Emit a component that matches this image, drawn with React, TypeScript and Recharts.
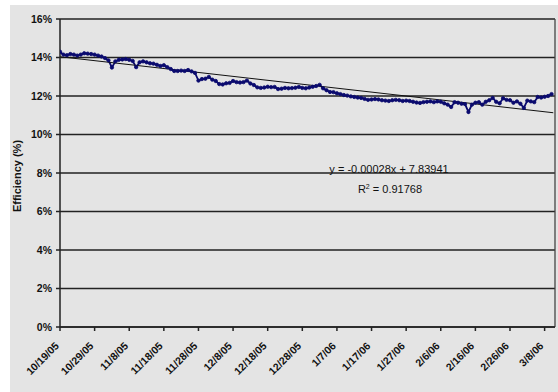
import React from 'react';
import { ComposedChart, Line, XAxis, YAxis, CartesianGrid, ReferenceLine } from 'recharts';

// day index since 10/19/05
const efficiencyValues: number[] = [
  14.30, 14.15, 14.12, 14.18, 14.15, 14.10, 14.15, 14.22, 14.20, 14.18,
  14.15, 14.10, 14.05, 13.97, 13.85, 13.48, 13.80, 13.88, 13.90, 13.92,
  13.88, 13.82, 13.50, 13.75, 13.80, 13.75, 13.70, 13.68, 13.62, 13.56,
  13.60, 13.50, 13.40, 13.30, 13.30, 13.32, 13.30, 13.35, 13.28, 13.20,
  12.80, 12.88, 12.90, 12.99, 12.85, 12.78, 12.62, 12.60, 12.66, 12.68,
  12.78, 12.72, 12.70, 12.72, 12.80, 12.65, 12.57, 12.45, 12.42, 12.44,
  12.48, 12.46, 12.47, 12.36, 12.38, 12.42, 12.40, 12.41, 12.43, 12.47,
  12.42, 12.40, 12.44, 12.48, 12.52, 12.58, 12.40, 12.30, 12.21, 12.20,
  12.14, 12.10, 12.05, 12.02, 11.98, 11.95, 11.92, 11.90, 11.85, 11.80,
  11.82, 11.84, 11.82, 11.78, 11.76, 11.74, 11.78, 11.80, 11.78, 11.74,
  11.76, 11.74, 11.70, 11.66, 11.64, 11.68, 11.70, 11.72, 11.68, 11.72,
  11.70, 11.62, 11.55, 11.43, 11.68, 11.65, 11.60, 11.58, 11.17, 11.55,
  11.65, 11.68, 11.55, 11.70, 11.78, 11.90, 11.70, 11.62, 11.88, 11.80,
  11.78, 11.65, 11.72, 11.60, 11.38, 11.76, 11.72, 11.68, 11.95, 11.92,
  11.96, 12.00, 12.10,
];

const trendDays: number[] = [0, 142.5];
const trendValues: number[] = [14.04, 11.13];

const xTickDays: number[] = [0, 10, 20, 30, 40, 50, 60, 70, 80, 90, 100, 110, 120, 130, 140];
const xTickLabels: string[] = [
  '10/19/05', '10/29/05', '11/8/05', '11/18/05', '11/28/05', '12/8/05', '12/18/05',
  '12/28/05', '1/7/06', '1/17/06', '1/27/06', '2/6/06', '2/16/06', '2/26/06', '3/8/06',
];
const yTicks: number[] = [0, 2, 4, 6, 8, 10, 12, 14, 16];

const equationText = 'y = -0.00028x + 7.83941';
const rSquaredText = '0.91768';

const seriesData = efficiencyValues.map((v, i) => ({ day: i, eff: v }));
const trendData = trendDays.map((d, i) => ({ day: d, trend: trendValues[i] }));

const FONT = '"Liberation Sans", Arial, sans-serif';

const XTick = (props: any) => {
  const { x, y, payload } = props;
  const idx = xTickDays.indexOf(payload.value);
  const label = idx >= 0 ? xTickLabels[idx] : '';
  return (
    <g transform={`translate(${x - 3},${y + 11}) rotate(-45)`}>
      <text x={0} y={0} dy="0.35em" textAnchor="end" fontSize={10.5} fontWeight="bold" fill="#111" fontFamily={FONT}>
        {label}
      </text>
    </g>
  );
};

export default function App() {
  return (
    <div style={{ position: 'absolute', left: 0, top: 0, width: 558, height: 392, background: '#fff' }}>
      <div style={{ position: 'absolute', left: 10, top: 5, width: 548, height: 387, background: '#e4e4e4' }} />
      <div style={{ position: 'absolute', left: 0, top: 0 }}>
        <ComposedChart width={558} height={392} margin={{ top: 19, right: 3, bottom: 0, left: 0 }}>
          <CartesianGrid vertical={false} stroke="#222" strokeWidth={1.3} />
          <XAxis
            dataKey="day"
            type="number"
            domain={[0, 143]}
            ticks={xTickDays}
            tick={<XTick />}
            tickSize={4}
            height={65}
            axisLine={{ stroke: '#222', strokeWidth: 1.5 }}
            tickLine={{ stroke: '#222', strokeWidth: 1.5 }}
            interval={0}
            allowDataOverflow
          />
          <YAxis
            type="number"
            domain={[0, 16]}
            ticks={yTicks}
            tickFormatter={(v: number) => `${v}%`}
            width={60}
            tickSize={4}
            tickMargin={4}
            axisLine={{ stroke: '#222', strokeWidth: 1.5 }}
            tickLine={{ stroke: '#222', strokeWidth: 1.5 }}
            tick={{ fontSize: 10.5, fontWeight: 'bold', fill: '#111', fontFamily: FONT }}
            interval={0}
          />
          <ReferenceLine x={143} stroke="#444" strokeWidth={1.3} />
          <Line
            data={seriesData}
            dataKey="eff"
            type="linear"
            stroke="#0a0a6e"
            strokeWidth={1.8}
            dot={{ r: 1.7, fill: '#0a0a6e', stroke: '#0a0a6e', strokeWidth: 0.8 }}
            isAnimationActive={false}
          />
          <Line
            data={trendData}
            dataKey="trend"
            type="linear"
            stroke="#111"
            strokeWidth={1}
            dot={false}
            isAnimationActive={false}
          />
        </ComposedChart>
      </div>
      <div style={{ position: 'absolute', left: 17, top: 176, transform: 'translate(-50%,-50%) rotate(-90deg)', fontFamily: FONT, fontSize: 11, fontWeight: 'bold', color: '#111', whiteSpace: 'nowrap' }}>
        Efficiency (%)
      </div>
      <div style={{ position: 'absolute', left: 389, top: 163, transform: 'translateX(-50%)', fontFamily: FONT, fontSize: 11, color: '#111', whiteSpace: 'nowrap', lineHeight: '12px' }}>
        {equationText}
      </div>
      <div style={{ position: 'absolute', left: 390, top: 183, transform: 'translateX(-50%)', fontFamily: FONT, fontSize: 11, color: '#111', whiteSpace: 'nowrap', lineHeight: '12px' }}>
        R<sup style={{ fontSize: 7, verticalAlign: 'top', lineHeight: '8px' }}>2</sup> = {rSquaredText}
      </div>
    </div>
  );
}
